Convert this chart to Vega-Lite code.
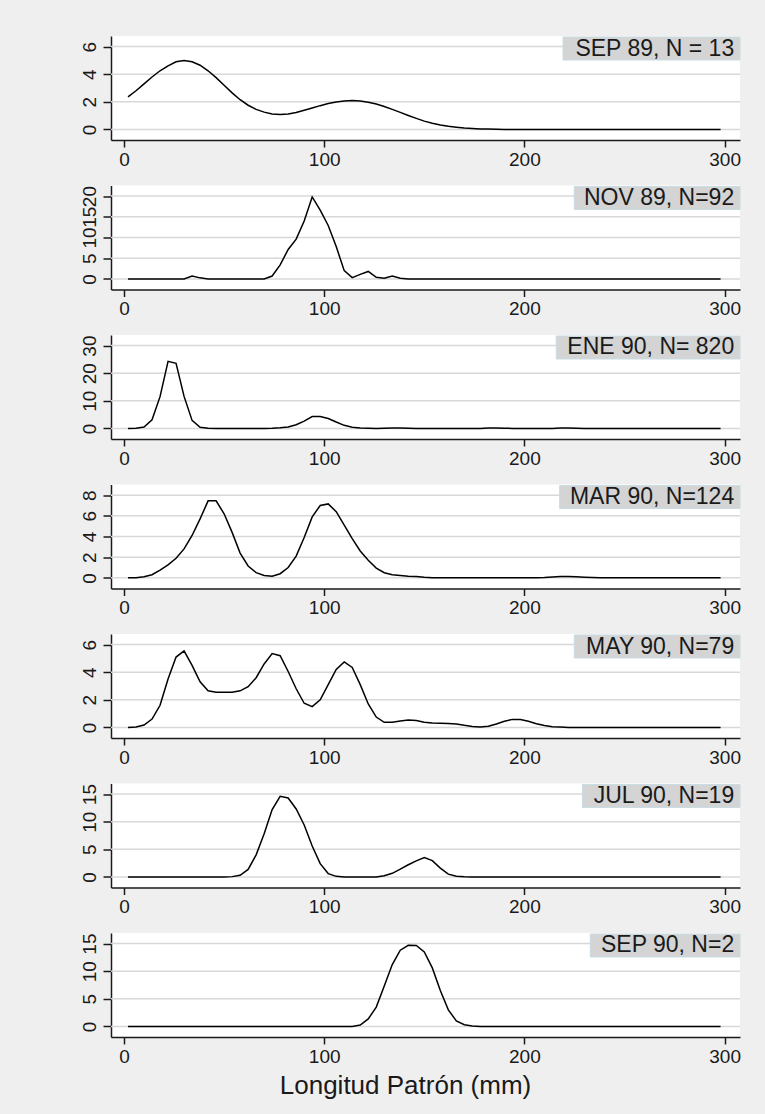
{
  "$schema": "https://vega.github.io/schema/vega-lite/v6.json",
  "background": "#efefef",
  "autosize": {"type": "none"},
  "padding": {"left": 111, "top": 36, "right": 654, "bottom": 1078},
  "spacing": 45.5,
  "bounds": "flush",
  "datasets": {
    "labels": [
      {"panel": 1, "label": "SEP 89, N = 13"},
      {"panel": 2, "label": "NOV 89, N=92"},
      {"panel": 3, "label": "ENE 90, N= 820"},
      {"panel": 4, "label": "MAR 90, N=124"},
      {"panel": 5, "label": "MAY 90, N=79"},
      {"panel": 6, "label": "JUL 90, N=19"},
      {"panel": 7, "label": "SEP 90, N=2"}
    ],
    "gridvals": [
      {"panel": 1, "g": 0}, {"panel": 1, "g": 2}, {"panel": 1, "g": 4}, {"panel": 1, "g": 6},
      {"panel": 2, "g": 0}, {"panel": 2, "g": 5}, {"panel": 2, "g": 10}, {"panel": 2, "g": 15}, {"panel": 2, "g": 20},
      {"panel": 3, "g": 0}, {"panel": 3, "g": 10}, {"panel": 3, "g": 20}, {"panel": 3, "g": 30},
      {"panel": 4, "g": 0}, {"panel": 4, "g": 2}, {"panel": 4, "g": 4}, {"panel": 4, "g": 6}, {"panel": 4, "g": 8},
      {"panel": 5, "g": 0}, {"panel": 5, "g": 2}, {"panel": 5, "g": 4}, {"panel": 5, "g": 6},
      {"panel": 6, "g": 0}, {"panel": 6, "g": 5}, {"panel": 6, "g": 10}, {"panel": 6, "g": 15},
      {"panel": 7, "g": 0}, {"panel": 7, "g": 5}, {"panel": 7, "g": 10}, {"panel": 7, "g": 15}
    ],
    "p1": [
      {"x": 2, "y": 2.35}, {"x": 6, "y": 2.8}, {"x": 10, "y": 3.3}, {"x": 14, "y": 3.8}, {"x": 18, "y": 4.25},
      {"x": 22, "y": 4.6}, {"x": 26, "y": 4.9}, {"x": 30, "y": 5.0}, {"x": 34, "y": 4.9}, {"x": 38, "y": 4.65},
      {"x": 42, "y": 4.25}, {"x": 46, "y": 3.75}, {"x": 50, "y": 3.2}, {"x": 54, "y": 2.65}, {"x": 58, "y": 2.15},
      {"x": 62, "y": 1.75}, {"x": 66, "y": 1.45}, {"x": 70, "y": 1.25}, {"x": 74, "y": 1.12}, {"x": 78, "y": 1.08},
      {"x": 82, "y": 1.12}, {"x": 86, "y": 1.22}, {"x": 90, "y": 1.38}, {"x": 94, "y": 1.55}, {"x": 98, "y": 1.72},
      {"x": 102, "y": 1.87}, {"x": 106, "y": 1.98}, {"x": 110, "y": 2.06}, {"x": 114, "y": 2.09}, {"x": 118, "y": 2.06},
      {"x": 122, "y": 1.97}, {"x": 126, "y": 1.84}, {"x": 130, "y": 1.66}, {"x": 134, "y": 1.45}, {"x": 138, "y": 1.23},
      {"x": 142, "y": 1.01}, {"x": 146, "y": 0.8}, {"x": 150, "y": 0.6}, {"x": 154, "y": 0.44}, {"x": 158, "y": 0.32},
      {"x": 162, "y": 0.23}, {"x": 166, "y": 0.16}, {"x": 170, "y": 0.1}, {"x": 174, "y": 0.06}, {"x": 178, "y": 0.03},
      {"x": 182, "y": 0.02}, {"x": 186, "y": 0.01}, {"x": 190, "y": 0}, {"x": 298, "y": 0}
    ],
    "p2": [
      {"x": 2, "y": 0}, {"x": 30, "y": 0}, {"x": 34, "y": 0.7}, {"x": 38, "y": 0.25}, {"x": 42, "y": 0},
      {"x": 70, "y": 0}, {"x": 74, "y": 0.7}, {"x": 78, "y": 3.4}, {"x": 82, "y": 7.1}, {"x": 86, "y": 9.6},
      {"x": 90, "y": 14}, {"x": 94, "y": 19.8}, {"x": 98, "y": 16.6}, {"x": 102, "y": 12.9}, {"x": 106, "y": 7.8},
      {"x": 110, "y": 2.0}, {"x": 114, "y": 0.3}, {"x": 118, "y": 1.1}, {"x": 122, "y": 1.8}, {"x": 126, "y": 0.4},
      {"x": 130, "y": 0.15}, {"x": 134, "y": 0.7}, {"x": 138, "y": 0.15}, {"x": 142, "y": 0}, {"x": 298, "y": 0}
    ],
    "p3": [
      {"x": 2, "y": 0}, {"x": 6, "y": 0.05}, {"x": 10, "y": 0.5}, {"x": 14, "y": 3.1}, {"x": 18, "y": 11.5},
      {"x": 22, "y": 24.3}, {"x": 26, "y": 23.6}, {"x": 30, "y": 11.6}, {"x": 34, "y": 2.9}, {"x": 38, "y": 0.4},
      {"x": 42, "y": 0.05}, {"x": 46, "y": 0}, {"x": 70, "y": 0}, {"x": 74, "y": 0.05}, {"x": 78, "y": 0.2},
      {"x": 82, "y": 0.5}, {"x": 86, "y": 1.3}, {"x": 90, "y": 2.6}, {"x": 94, "y": 4.3}, {"x": 98, "y": 4.3},
      {"x": 102, "y": 3.6}, {"x": 106, "y": 2.3}, {"x": 110, "y": 1.1}, {"x": 114, "y": 0.45}, {"x": 118, "y": 0.15},
      {"x": 122, "y": 0.05}, {"x": 126, "y": 0}, {"x": 130, "y": 0.05}, {"x": 134, "y": 0.15}, {"x": 138, "y": 0.15},
      {"x": 142, "y": 0.05}, {"x": 146, "y": 0}, {"x": 178, "y": 0}, {"x": 182, "y": 0.1}, {"x": 186, "y": 0.15},
      {"x": 190, "y": 0.05}, {"x": 194, "y": 0}, {"x": 214, "y": 0}, {"x": 218, "y": 0.1}, {"x": 222, "y": 0.15},
      {"x": 226, "y": 0.05}, {"x": 230, "y": 0}, {"x": 298, "y": 0}
    ],
    "p4": [
      {"x": 2, "y": 0}, {"x": 6, "y": 0.02}, {"x": 10, "y": 0.1}, {"x": 14, "y": 0.3}, {"x": 18, "y": 0.75},
      {"x": 22, "y": 1.25}, {"x": 26, "y": 1.9}, {"x": 30, "y": 2.8}, {"x": 34, "y": 4.1}, {"x": 38, "y": 5.7},
      {"x": 42, "y": 7.45}, {"x": 46, "y": 7.45}, {"x": 50, "y": 6.2}, {"x": 54, "y": 4.4}, {"x": 58, "y": 2.4},
      {"x": 62, "y": 1.15}, {"x": 66, "y": 0.5}, {"x": 70, "y": 0.22}, {"x": 74, "y": 0.15}, {"x": 78, "y": 0.4},
      {"x": 82, "y": 1.0}, {"x": 86, "y": 2.1}, {"x": 90, "y": 3.9}, {"x": 94, "y": 5.9}, {"x": 98, "y": 7.0},
      {"x": 102, "y": 7.15}, {"x": 106, "y": 6.4}, {"x": 110, "y": 5.1}, {"x": 114, "y": 3.8}, {"x": 118, "y": 2.6},
      {"x": 122, "y": 1.7}, {"x": 126, "y": 0.95}, {"x": 130, "y": 0.5}, {"x": 134, "y": 0.3}, {"x": 138, "y": 0.22},
      {"x": 142, "y": 0.15}, {"x": 146, "y": 0.12}, {"x": 150, "y": 0.06}, {"x": 154, "y": 0.02}, {"x": 158, "y": 0},
      {"x": 206, "y": 0}, {"x": 210, "y": 0.03}, {"x": 214, "y": 0.08}, {"x": 218, "y": 0.13}, {"x": 222, "y": 0.13},
      {"x": 226, "y": 0.1}, {"x": 230, "y": 0.06}, {"x": 234, "y": 0.03}, {"x": 238, "y": 0.01}, {"x": 242, "y": 0},
      {"x": 298, "y": 0}
    ],
    "p5": [
      {"x": 2, "y": 0}, {"x": 6, "y": 0.03}, {"x": 10, "y": 0.17}, {"x": 14, "y": 0.6}, {"x": 18, "y": 1.6},
      {"x": 22, "y": 3.5}, {"x": 26, "y": 5.1}, {"x": 30, "y": 5.55}, {"x": 34, "y": 4.5}, {"x": 38, "y": 3.3},
      {"x": 42, "y": 2.65}, {"x": 46, "y": 2.55}, {"x": 50, "y": 2.55}, {"x": 54, "y": 2.55}, {"x": 58, "y": 2.65},
      {"x": 62, "y": 2.95}, {"x": 66, "y": 3.6}, {"x": 70, "y": 4.6}, {"x": 74, "y": 5.35}, {"x": 78, "y": 5.2},
      {"x": 82, "y": 4.05}, {"x": 86, "y": 2.8}, {"x": 90, "y": 1.75}, {"x": 94, "y": 1.5}, {"x": 98, "y": 2.0},
      {"x": 102, "y": 3.1}, {"x": 106, "y": 4.2}, {"x": 110, "y": 4.75}, {"x": 114, "y": 4.35}, {"x": 118, "y": 3.1},
      {"x": 122, "y": 1.7}, {"x": 126, "y": 0.75}, {"x": 130, "y": 0.37}, {"x": 134, "y": 0.37}, {"x": 138, "y": 0.47},
      {"x": 142, "y": 0.53}, {"x": 146, "y": 0.5}, {"x": 150, "y": 0.38}, {"x": 154, "y": 0.32}, {"x": 158, "y": 0.3},
      {"x": 162, "y": 0.28}, {"x": 166, "y": 0.25}, {"x": 170, "y": 0.15}, {"x": 174, "y": 0.07}, {"x": 178, "y": 0.03},
      {"x": 182, "y": 0.08}, {"x": 186, "y": 0.25}, {"x": 190, "y": 0.45}, {"x": 194, "y": 0.58}, {"x": 198, "y": 0.57},
      {"x": 202, "y": 0.45}, {"x": 206, "y": 0.27}, {"x": 210, "y": 0.13}, {"x": 214, "y": 0.05}, {"x": 218, "y": 0.02},
      {"x": 222, "y": 0}, {"x": 298, "y": 0}
    ],
    "p6": [
      {"x": 2, "y": 0}, {"x": 50, "y": 0}, {"x": 54, "y": 0.05}, {"x": 58, "y": 0.3}, {"x": 62, "y": 1.35},
      {"x": 66, "y": 4.0}, {"x": 70, "y": 7.8}, {"x": 74, "y": 12.2}, {"x": 78, "y": 14.6}, {"x": 82, "y": 14.3},
      {"x": 86, "y": 12.3}, {"x": 90, "y": 9.4}, {"x": 94, "y": 5.6}, {"x": 98, "y": 2.4}, {"x": 102, "y": 0.6},
      {"x": 106, "y": 0.1}, {"x": 110, "y": 0}, {"x": 126, "y": 0}, {"x": 130, "y": 0.2}, {"x": 134, "y": 0.65},
      {"x": 138, "y": 1.4}, {"x": 142, "y": 2.2}, {"x": 146, "y": 2.9}, {"x": 150, "y": 3.5}, {"x": 154, "y": 2.95},
      {"x": 158, "y": 1.6}, {"x": 162, "y": 0.5}, {"x": 166, "y": 0.12}, {"x": 170, "y": 0.02}, {"x": 174, "y": 0},
      {"x": 298, "y": 0}
    ],
    "p7": [
      {"x": 2, "y": 0}, {"x": 114, "y": 0}, {"x": 118, "y": 0.25}, {"x": 122, "y": 1.35}, {"x": 126, "y": 3.5},
      {"x": 130, "y": 7.3}, {"x": 134, "y": 11.2}, {"x": 138, "y": 13.8}, {"x": 142, "y": 14.7}, {"x": 146, "y": 14.65},
      {"x": 150, "y": 13.5}, {"x": 154, "y": 10.6}, {"x": 158, "y": 6.5}, {"x": 162, "y": 3.0}, {"x": 166, "y": 1.0},
      {"x": 170, "y": 0.3}, {"x": 174, "y": 0.07}, {"x": 178, "y": 0}, {"x": 298, "y": 0}
    ]
  },
  "vconcat": [
    {
      "width": 629, "height": 104,
      "layer": [
        {"data": {"name": "gridvals"}, "transform": [{"filter": "datum.panel == 1"}], "mark": {"type": "rule", "color": "#d8d8d8", "strokeWidth": 1.5},
         "encoding": {"x": {"datum": -6.5, "type": "quantitative", "axis": {"values": [0, 100, 200, 300], "title": null, "grid": false}}, "x2": {"datum": 307.7}, "y": {"field": "g", "type": "quantitative", "axis": {"values": [0, 2, 4, 6], "title": null, "grid": false}}}},
        {"data": {"name": "p1"}, "mark": {"type": "line", "color": "#000000", "strokeWidth": 1.5},
         "encoding": {
           "x": {"field": "x", "type": "quantitative", "scale": {"domain": [-6.5, 307.7], "nice": false, "zero": false}, "axis": {"values": [0, 100, 200, 300], "title": null, "grid": false}},
           "y": {"field": "y", "type": "quantitative", "scale": {"domain": [-0.77, 6.77], "nice": false, "zero": false}, "axis": {"values": [0, 2, 4, 6], "title": null, "grid": false}}}},
        {"data": {"name": "labels"}, "transform": [{"filter": "datum.panel == 1"}], "mark": {"type": "rect", "fill": "#d4d4d4", "stroke": "#c8dde4", "strokeWidth": 1},
         "encoding": {"x": {"datum": 219.3, "type": "quantitative", "axis": {"values": [0, 100, 200, 300], "title": null, "grid": false}}, "x2": {"datum": 307.7}, "y": {"datum": 6.7, "type": "quantitative", "axis": {"values": [0, 2, 4, 6], "title": null, "grid": false}}, "y2": {"datum": 5.03}}},
        {"data": {"name": "labels"}, "transform": [{"filter": "datum.panel == 1"}], "mark": {"type": "text", "align": "right", "baseline": "middle", "fontSize": 23, "color": "#1a1a1a"},
         "encoding": {"x": {"datum": 304.8, "type": "quantitative", "axis": {"values": [0, 100, 200, 300], "title": null, "grid": false}}, "y": {"datum": 5.86, "type": "quantitative", "axis": {"values": [0, 2, 4, 6], "title": null, "grid": false}}, "text": {"field": "label"}}}
      ]
    },
    {
      "width": 629, "height": 104,
      "layer": [
        {"data": {"name": "gridvals"}, "transform": [{"filter": "datum.panel == 2"}], "mark": {"type": "rule", "color": "#d8d8d8", "strokeWidth": 1.5},
         "encoding": {"x": {"datum": -6.5, "type": "quantitative", "axis": {"values": [0, 100, 200, 300], "title": null, "grid": false}}, "x2": {"datum": 307.7}, "y": {"field": "g", "type": "quantitative", "axis": {"values": [0, 5, 10, 15, 20], "title": null, "grid": false}}}},
        {"data": {"name": "p2"}, "mark": {"type": "line", "color": "#000000", "strokeWidth": 1.5},
         "encoding": {
           "x": {"field": "x", "type": "quantitative", "scale": {"domain": [-6.5, 307.7], "nice": false, "zero": false}, "axis": {"values": [0, 100, 200, 300], "title": null, "grid": false}},
           "y": {"field": "y", "type": "quantitative", "scale": {"domain": [-2.56, 22.56], "nice": false, "zero": false}, "axis": {"values": [0, 5, 10, 15, 20], "title": null, "grid": false}}}},
        {"data": {"name": "labels"}, "transform": [{"filter": "datum.panel == 2"}], "mark": {"type": "rect", "fill": "#d4d4d4", "stroke": "#c8dde4", "strokeWidth": 1},
         "encoding": {"x": {"datum": 224.9, "type": "quantitative", "axis": {"values": [0, 100, 200, 300], "title": null, "grid": false}}, "x2": {"datum": 307.7}, "y": {"datum": 22.32, "type": "quantitative", "axis": {"values": [0, 5, 10, 15, 20], "title": null, "grid": false}}, "y2": {"datum": 16.76}}},
        {"data": {"name": "labels"}, "transform": [{"filter": "datum.panel == 2"}], "mark": {"type": "text", "align": "right", "baseline": "middle", "fontSize": 23, "color": "#1a1a1a"},
         "encoding": {"x": {"datum": 304.8, "type": "quantitative", "axis": {"values": [0, 100, 200, 300], "title": null, "grid": false}}, "y": {"datum": 19.54, "type": "quantitative", "axis": {"values": [0, 5, 10, 15, 20], "title": null, "grid": false}}, "text": {"field": "label"}}}
      ]
    },
    {
      "width": 629, "height": 104,
      "layer": [
        {"data": {"name": "gridvals"}, "transform": [{"filter": "datum.panel == 3"}], "mark": {"type": "rule", "color": "#d8d8d8", "strokeWidth": 1.5},
         "encoding": {"x": {"datum": -6.5, "type": "quantitative", "axis": {"values": [0, 100, 200, 300], "title": null, "grid": false}}, "x2": {"datum": 307.7}, "y": {"field": "g", "type": "quantitative", "axis": {"values": [0, 10, 20, 30], "title": null, "grid": false}}}},
        {"data": {"name": "p3"}, "mark": {"type": "line", "color": "#000000", "strokeWidth": 1.5},
         "encoding": {
           "x": {"field": "x", "type": "quantitative", "scale": {"domain": [-6.5, 307.7], "nice": false, "zero": false}, "axis": {"values": [0, 100, 200, 300], "title": null, "grid": false}},
           "y": {"field": "y", "type": "quantitative", "scale": {"domain": [-3.85, 33.85], "nice": false, "zero": false}, "axis": {"values": [0, 10, 20, 30], "title": null, "grid": false}}}},
        {"data": {"name": "labels"}, "transform": [{"filter": "datum.panel == 3"}], "mark": {"type": "rect", "fill": "#d4d4d4", "stroke": "#c8dde4", "strokeWidth": 1},
         "encoding": {"x": {"datum": 215.9, "type": "quantitative", "axis": {"values": [0, 100, 200, 300], "title": null, "grid": false}}, "x2": {"datum": 307.7}, "y": {"datum": 33.49, "type": "quantitative", "axis": {"values": [0, 10, 20, 30], "title": null, "grid": false}}, "y2": {"datum": 25.15}}},
        {"data": {"name": "labels"}, "transform": [{"filter": "datum.panel == 3"}], "mark": {"type": "text", "align": "right", "baseline": "middle", "fontSize": 23, "color": "#1a1a1a"},
         "encoding": {"x": {"datum": 304.8, "type": "quantitative", "axis": {"values": [0, 100, 200, 300], "title": null, "grid": false}}, "y": {"datum": 29.32, "type": "quantitative", "axis": {"values": [0, 10, 20, 30], "title": null, "grid": false}}, "text": {"field": "label"}}}
      ]
    },
    {
      "width": 629, "height": 104,
      "layer": [
        {"data": {"name": "gridvals"}, "transform": [{"filter": "datum.panel == 4"}], "mark": {"type": "rule", "color": "#d8d8d8", "strokeWidth": 1.5},
         "encoding": {"x": {"datum": -6.5, "type": "quantitative", "axis": {"values": [0, 100, 200, 300], "title": null, "grid": false}}, "x2": {"datum": 307.7}, "y": {"field": "g", "type": "quantitative", "axis": {"values": [0, 2, 4, 6, 8], "title": null, "grid": false}}}},
        {"data": {"name": "p4"}, "mark": {"type": "line", "color": "#000000", "strokeWidth": 1.5},
         "encoding": {
           "x": {"field": "x", "type": "quantitative", "scale": {"domain": [-6.5, 307.7], "nice": false, "zero": false}, "axis": {"values": [0, 100, 200, 300], "title": null, "grid": false}},
           "y": {"field": "y", "type": "quantitative", "scale": {"domain": [-1.03, 9.03], "nice": false, "zero": false}, "axis": {"values": [0, 2, 4, 6, 8], "title": null, "grid": false}}}},
        {"data": {"name": "labels"}, "transform": [{"filter": "datum.panel == 4"}], "mark": {"type": "rect", "fill": "#d4d4d4", "stroke": "#c8dde4", "strokeWidth": 1},
         "encoding": {"x": {"datum": 217.6, "type": "quantitative", "axis": {"values": [0, 100, 200, 300], "title": null, "grid": false}}, "x2": {"datum": 307.7}, "y": {"datum": 8.93, "type": "quantitative", "axis": {"values": [0, 2, 4, 6, 8], "title": null, "grid": false}}, "y2": {"datum": 6.71}}},
        {"data": {"name": "labels"}, "transform": [{"filter": "datum.panel == 4"}], "mark": {"type": "text", "align": "right", "baseline": "middle", "fontSize": 23, "color": "#1a1a1a"},
         "encoding": {"x": {"datum": 304.8, "type": "quantitative", "axis": {"values": [0, 100, 200, 300], "title": null, "grid": false}}, "y": {"datum": 7.82, "type": "quantitative", "axis": {"values": [0, 2, 4, 6, 8], "title": null, "grid": false}}, "text": {"field": "label"}}}
      ]
    },
    {
      "width": 629, "height": 104,
      "layer": [
        {"data": {"name": "gridvals"}, "transform": [{"filter": "datum.panel == 5"}], "mark": {"type": "rule", "color": "#d8d8d8", "strokeWidth": 1.5},
         "encoding": {"x": {"datum": -6.5, "type": "quantitative", "axis": {"values": [0, 100, 200, 300], "title": null, "grid": false}}, "x2": {"datum": 307.7}, "y": {"field": "g", "type": "quantitative", "axis": {"values": [0, 2, 4, 6], "title": null, "grid": false}}}},
        {"data": {"name": "p5"}, "mark": {"type": "line", "color": "#000000", "strokeWidth": 1.5},
         "encoding": {
           "x": {"field": "x", "type": "quantitative", "scale": {"domain": [-6.5, 307.7], "nice": false, "zero": false}, "axis": {"values": [0, 100, 200, 300], "title": null, "grid": false}},
           "y": {"field": "y", "type": "quantitative", "scale": {"domain": [-0.77, 6.77], "nice": false, "zero": false}, "axis": {"values": [0, 2, 4, 6], "title": null, "grid": false}}}},
        {"data": {"name": "labels"}, "transform": [{"filter": "datum.panel == 5"}], "mark": {"type": "rect", "fill": "#d4d4d4", "stroke": "#c8dde4", "strokeWidth": 1},
         "encoding": {"x": {"datum": 224.9, "type": "quantitative", "axis": {"values": [0, 100, 200, 300], "title": null, "grid": false}}, "x2": {"datum": 307.7}, "y": {"datum": 6.7, "type": "quantitative", "axis": {"values": [0, 2, 4, 6], "title": null, "grid": false}}, "y2": {"datum": 5.03}}},
        {"data": {"name": "labels"}, "transform": [{"filter": "datum.panel == 5"}], "mark": {"type": "text", "align": "right", "baseline": "middle", "fontSize": 23, "color": "#1a1a1a"},
         "encoding": {"x": {"datum": 304.8, "type": "quantitative", "axis": {"values": [0, 100, 200, 300], "title": null, "grid": false}}, "y": {"datum": 5.86, "type": "quantitative", "axis": {"values": [0, 2, 4, 6], "title": null, "grid": false}}, "text": {"field": "label"}}}
      ]
    },
    {
      "width": 629, "height": 104,
      "layer": [
        {"data": {"name": "gridvals"}, "transform": [{"filter": "datum.panel == 6"}], "mark": {"type": "rule", "color": "#d8d8d8", "strokeWidth": 1.5},
         "encoding": {"x": {"datum": -6.5, "type": "quantitative", "axis": {"values": [0, 100, 200, 300], "title": null, "grid": false}}, "x2": {"datum": 307.7}, "y": {"field": "g", "type": "quantitative", "axis": {"values": [0, 5, 10, 15], "title": null, "grid": false}}}},
        {"data": {"name": "p6"}, "mark": {"type": "line", "color": "#000000", "strokeWidth": 1.5},
         "encoding": {
           "x": {"field": "x", "type": "quantitative", "scale": {"domain": [-6.5, 307.7], "nice": false, "zero": false}, "axis": {"values": [0, 100, 200, 300], "title": null, "grid": false}},
           "y": {"field": "y", "type": "quantitative", "scale": {"domain": [-1.92, 16.92], "nice": false, "zero": false}, "axis": {"values": [0, 5, 10, 15], "title": null, "grid": false}}}},
        {"data": {"name": "labels"}, "transform": [{"filter": "datum.panel == 6"}], "mark": {"type": "rect", "fill": "#d4d4d4", "stroke": "#c8dde4", "strokeWidth": 1},
         "encoding": {"x": {"datum": 229.0, "type": "quantitative", "axis": {"values": [0, 100, 200, 300], "title": null, "grid": false}}, "x2": {"datum": 307.7}, "y": {"datum": 16.74, "type": "quantitative", "axis": {"values": [0, 5, 10, 15], "title": null, "grid": false}}, "y2": {"datum": 12.57}}},
        {"data": {"name": "labels"}, "transform": [{"filter": "datum.panel == 6"}], "mark": {"type": "text", "align": "right", "baseline": "middle", "fontSize": 23, "color": "#1a1a1a"},
         "encoding": {"x": {"datum": 304.8, "type": "quantitative", "axis": {"values": [0, 100, 200, 300], "title": null, "grid": false}}, "y": {"datum": 14.66, "type": "quantitative", "axis": {"values": [0, 5, 10, 15], "title": null, "grid": false}}, "text": {"field": "label"}}}
      ]
    },
    {
      "width": 629, "height": 104,
      "layer": [
        {"data": {"name": "gridvals"}, "transform": [{"filter": "datum.panel == 7"}], "mark": {"type": "rule", "color": "#d8d8d8", "strokeWidth": 1.5},
         "encoding": {"x": {"datum": -6.5, "type": "quantitative", "axis": {"values": [0, 100, 200, 300], "title": "Longitud Patrón (mm)", "titleX": 294, "titleAlign": "center", "grid": false}}, "x2": {"datum": 307.7}, "y": {"field": "g", "type": "quantitative", "axis": {"values": [0, 5, 10, 15], "title": null, "grid": false}}}},
        {"data": {"name": "p7"}, "mark": {"type": "line", "color": "#000000", "strokeWidth": 1.5},
         "encoding": {
           "x": {"field": "x", "type": "quantitative", "scale": {"domain": [-6.5, 307.7], "nice": false, "zero": false}, "axis": {"values": [0, 100, 200, 300], "title": "Longitud Patrón (mm)", "titleX": 294, "titleAlign": "center", "grid": false}},
           "y": {"field": "y", "type": "quantitative", "scale": {"domain": [-1.92, 16.92], "nice": false, "zero": false}, "axis": {"values": [0, 5, 10, 15], "title": null, "grid": false}}}},
        {"data": {"name": "labels"}, "transform": [{"filter": "datum.panel == 7"}], "mark": {"type": "rect", "fill": "#d4d4d4", "stroke": "#c8dde4", "strokeWidth": 1},
         "encoding": {"x": {"datum": 232.9, "type": "quantitative", "axis": {"values": [0, 100, 200, 300], "title": "Longitud Patrón (mm)", "titleX": 294, "titleAlign": "center", "grid": false}}, "x2": {"datum": 307.7}, "y": {"datum": 16.74, "type": "quantitative", "axis": {"values": [0, 5, 10, 15], "title": null, "grid": false}}, "y2": {"datum": 12.57}}},
        {"data": {"name": "labels"}, "transform": [{"filter": "datum.panel == 7"}], "mark": {"type": "text", "align": "right", "baseline": "middle", "fontSize": 23, "color": "#1a1a1a"},
         "encoding": {"x": {"datum": 304.8, "type": "quantitative", "axis": {"values": [0, 100, 200, 300], "title": "Longitud Patrón (mm)", "titleX": 294, "titleAlign": "center", "grid": false}}, "y": {"datum": 14.66, "type": "quantitative", "axis": {"values": [0, 5, 10, 15], "title": null, "grid": false}}, "text": {"field": "label"}}}
      ]
    }
  ],
  "config": {
    "font": "Liberation Sans",
    "view": {"stroke": null, "fill": "#ffffff"},
    "axis": {
      "domainColor": "#1a1a1a", "domainWidth": 1.5,
      "tickColor": "#1a1a1a", "tickWidth": 1.5,
      "labelColor": "#1a1a1a", "labelFont": "Liberation Sans", "labelFontSize": 19,
      "labelOverlap": false, "labelFlush": false, "labelBound": false,
      "titleFont": "Liberation Sans", "titleFontWeight": "normal", "titleFontSize": 26, "titleColor": "#1a1a1a"
    },
    "axisX": {"tickSize": 7, "labelPadding": 3, "titlePadding": 6},
    "axisY": {"tickSize": 8, "labelAngle": 270, "labelPadding": 4}
  }
}
